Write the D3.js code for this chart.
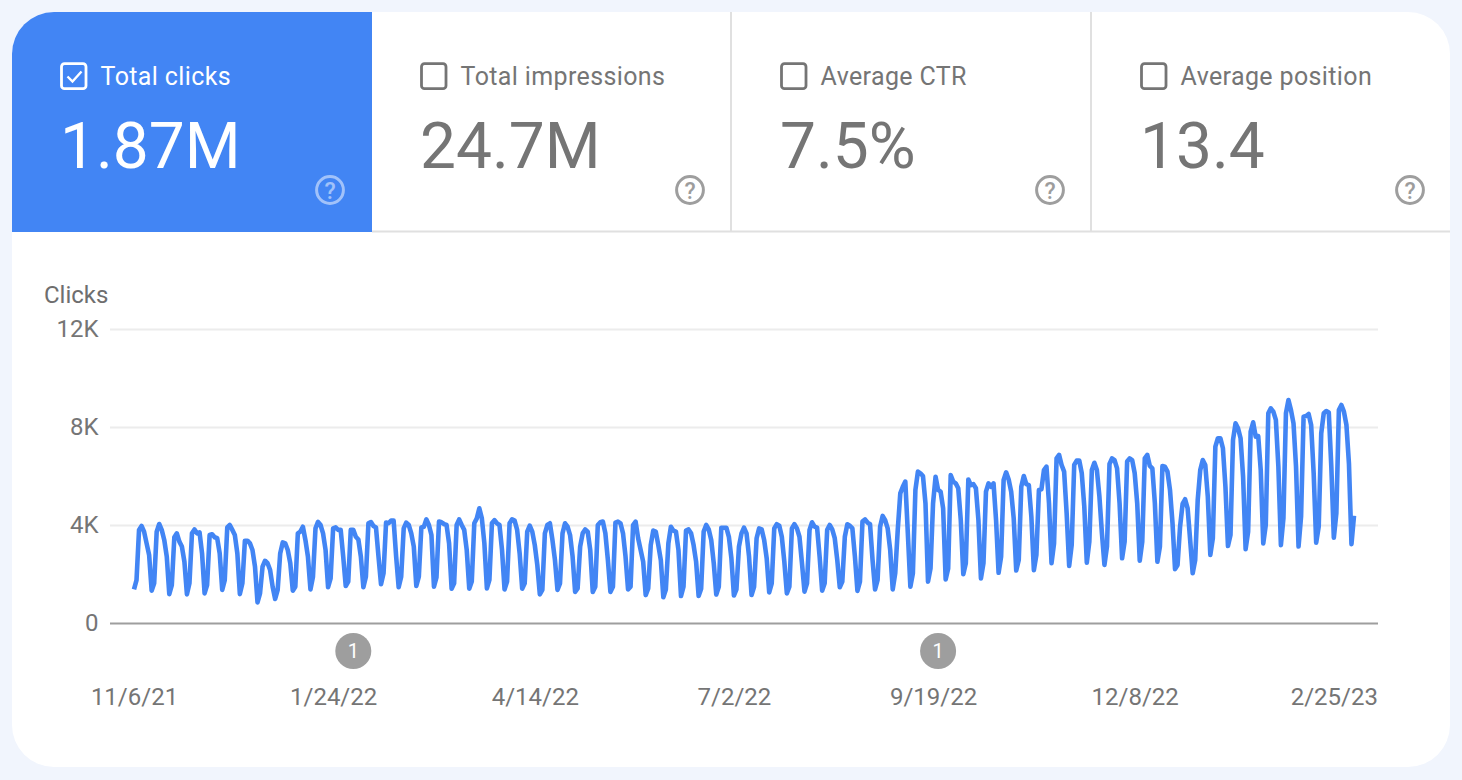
<!DOCTYPE html>
<html><head><meta charset="utf-8">
<script src="https://d3js.org/d3.v7.min.js"></script>
<style>
html,body{margin:0;padding:0;background:#f1f5fd;overflow:hidden}
text{font-family:Roboto,sans-serif}
</style></head><body><svg id="c" width="1462" height="780"></svg>
<script>
const metricLabels=["Total clicks","Total impressions","Average CTR","Average position"];
const metricValues=["1.87M","24.7M","7.5%","13.4"];
const firstDay="2021-11-06";
const lastDay="2023-03-05";
const yTickValues=[0,4000,8000,12000];
const yTickLabels=["0","4K","8K","12K"];
const xTickDates=["2021-11-06","2022-01-24","2022-04-14","2022-07-02","2022-09-19","2022-12-08","2023-02-25"];
const xTickLabels=["11/6/21","1/24/22","4/14/22","7/2/22","9/19/22","12/8/22","2/25/23"];
const annotationDates=["2022-02-01","2022-09-21"];
const annotationCounts=["1","1"];
const clicks=[
1370,1750,3800,3960,3730,3250,2780,
1320,1620,3730,4040,3800,3390,2710,
1180,1550,3500,3660,3320,3120,2500,
1170,1620,3660,3820,3660,3700,2840,
1210,1550,3590,3620,3500,3460,2840,
1350,1750,3900,4000,3800,3590,2840,
1180,1620,3360,3360,3250,2980,2300,
840,1210,2300,2540,2440,2160,1480,
980,1350,2840,3290,3250,2980,2440,
1320,1480,3660,3730,3930,3390,2710,
1370,1890,3860,4130,4000,3660,2980,
1460,1820,3860,3900,3800,3800,2710,
1510,1690,3800,3800,3520,3410,2710,
1460,1890,4070,4120,3960,3900,2710,
1580,2030,4100,4070,4180,4180,2710,
1460,1890,3860,4100,4000,3660,3120,
1510,1890,3900,3930,4230,4000,3590,
1480,1860,4140,4110,4040,4000,3250,
1400,1620,4000,4230,4000,3800,2980,
1400,1690,4070,4270,4680,4270,3250,
1410,1760,4070,4200,4070,4000,2980,
1370,1690,4070,4230,4180,3800,2840,
1400,1620,3730,3970,3730,3180,2370,
1170,1350,3660,4000,4070,3390,2570,
1350,1620,3660,4070,3930,3590,2710,
1270,1410,3120,3660,3820,3730,2980,
1270,1480,4000,4110,4140,3660,2570,
1270,1480,4100,4140,4070,3660,2710,
1370,1480,4000,4140,3460,2980,2500,
1140,1410,3180,3770,3730,3180,2570,
1050,1370,3250,3930,3770,3730,2980,
1100,1480,3770,3820,3660,3180,2500,
1100,1400,3730,4000,3820,3390,2440,
1160,1480,3890,3890,3890,3520,2640,
1120,1370,3120,3660,3890,3660,2710,
1140,1480,3460,3860,3820,3390,2640,
1250,1620,3860,4030,3970,3520,2500,
1210,1480,3860,4030,3860,3520,2440,
1280,1620,3800,4110,3930,3890,2710,
1320,1620,3800,4000,3820,3460,2570,
1460,1690,3520,4030,3970,3860,2710,
1310,1690,4140,4230,4100,4030,2570,
1370,1760,3930,4370,4200,3860,2980,
1370,2030,3800,5290,5560,5770,3660,
1480,2030,5430,6180,6110,6000,4880,
1690,2230,4880,5970,5430,5360,4680,
1780,2230,6040,5770,5700,5500,4200,
1990,2440,5860,5630,5670,5500,4200,
1820,2440,5360,5700,5560,5700,4200,
2050,2710,5840,6150,5860,5360,4270,
2140,2570,5560,6000,5670,5630,4340,
2160,2780,5430,5460,6240,6380,4880,
2440,3250,6720,6860,6450,6180,4480,
2330,3180,6450,6630,6630,6110,4750,
2460,3320,6240,6540,6240,5160,3660,
2370,3120,6490,6720,6650,6310,4880,
2640,3320,6590,6720,6650,6110,4880,
2540,3320,6720,6860,6410,6310,4880,
2500,3120,6410,6380,6180,5430,4070,
2200,2370,3930,4860,5050,4680,3390,
2030,2570,5020,6240,6650,6450,5160,
2780,3460,7200,7540,7540,7130,5560,
3140,3590,7470,8150,7950,7540,5970,
3010,3730,7810,8190,7610,7630,6240,
3250,4000,8560,8760,8630,8290,6380,
3180,4270,8560,9100,8690,8150,6380,
3120,4340,8420,8450,8530,8080,6110,
3280,3930,7740,8560,8650,8590,6380,
3480,4480,8690,8900,8630,8080,6500,
3220,4380];

const parse=d3.utcParse("%Y-%m-%d");
const dayMs=86400000;
const start=parse(firstDay);
const series=clicks.map((v,i)=>({date:new Date(+start+i*dayMs),v}));
const x=d3.scaleUtc().domain([start,parse(lastDay)]).range([134,1354]);
const y=d3.scaleLinear().domain([0,12000]).range([623,329]);
const svg=d3.select("#c");

const defs=svg.append("defs");
defs.append("clipPath").attr("id","card").append("rect")
  .attr("x",12).attr("y",12).attr("width",1438).attr("height",755).attr("rx",42);
svg.append("rect").attr("x",12).attr("y",12).attr("width",1438).attr("height",755).attr("rx",42).attr("fill","#fff");

const tileX=d3.scaleLinear().domain([0,4]).range([12,1452]);
const tiles=svg.append("g").attr("clip-path","url(#card)");
metricLabels.forEach((lab,i)=>{
  const x0=tileX(i), sel=i===0, fg=sel?"#fff":"#757575";
  const g=tiles.append("g");
  if(sel) g.append("rect").attr("x",x0).attr("y",12).attr("width",360).attr("height",220).attr("fill","#4285f4");
  else if(i>1) g.append("line").attr("x1",x0-1).attr("x2",x0-1).attr("y1",12).attr("y2",232).attr("stroke","#e0e0e0").attr("stroke-width",2);
  const bx=x0+49.5;
  g.append("rect").attr("x",bx).attr("y",63.7).attr("width",24.5).attr("height",25).attr("rx",3)
    .attr("fill","none").attr("stroke",fg).attr("stroke-width",2.8);
  if(sel) g.append("path").attr("d",`M${bx+6} ${76.5}l5 5l9 -10`).attr("fill","none").attr("stroke","#fff").attr("stroke-width",2.4);
  g.append("text").attr("x",x0+88.6).attr("y",85).attr("font-size",25).attr("letter-spacing",0.37).attr("fill",fg).text(lab);
  g.append("text").attr("x",x0+48).attr("y",168).attr("font-size",64).attr("fill",fg).text(metricValues[i]);
  const hx=x0+318;
  const hc=sel?"#fff":"#757575";
  g.append("circle").attr("cx",hx).attr("cy",190).attr("r",13.4).attr("fill","none").attr("stroke",hc).attr("stroke-width",3).attr("opacity",sel?0.5:0.7);
  g.append("text").attr("x",hx).attr("y",198.5).attr("text-anchor","middle").attr("font-size",23).attr("font-weight",500).attr("fill",hc).attr("opacity",sel?0.5:0.7).text("?");
});
tiles.append("rect").attr("x",372).attr("y",230.5).attr("width",1080).attr("height",2).attr("fill","#e0e0e0");

svg.append("text").attr("x",44).attr("y",303).attr("font-size",24).attr("fill","#6e6e6e").text("Clicks");

const yAxis=d3.axisLeft(y).tickValues(yTickValues).tickSize(0).tickPadding(11.5)
  .tickFormat((d,i)=>yTickLabels[i]);
const gy=svg.append("g").attr("transform","translate(110,0)").call(yAxis);
gy.select(".domain").remove();
gy.selectAll("text").attr("font-size",24).attr("fill","#757575");
gy.selectAll(".tick").append("line").attr("x1",0).attr("x2",1268)
  .attr("stroke",d=>d===0?"#9e9e9e":"#ececec").attr("stroke-width",2);

const xAxis=d3.axisBottom(x).tickValues(xTickDates.map(parse)).tickSize(0).tickPadding(0)
  .tickFormat((d,i)=>xTickLabels[i]);
const gx=svg.append("g").attr("transform","translate(0,688)").call(xAxis);
gx.select(".domain").remove();
gx.selectAll("text").attr("font-size",24).attr("fill","#757575");

const line=d3.line().x(d=>x(d.date)).y(d=>y(d.v));
svg.append("path").datum(series).attr("d",line).attr("fill","none")
  .attr("stroke","#4285f4").attr("stroke-width",4.6).attr("stroke-linejoin","round");

annotationDates.forEach((d,i)=>{
  const cx=x(parse(d));
  svg.append("circle").attr("cx",cx).attr("cy",651).attr("r",18).attr("fill","#9e9e9e");
  svg.append("text").attr("x",cx).attr("y",658).attr("text-anchor","middle").attr("font-size",20).attr("fill","#fff").text(annotationCounts[i]);
});
</script></body></html>
